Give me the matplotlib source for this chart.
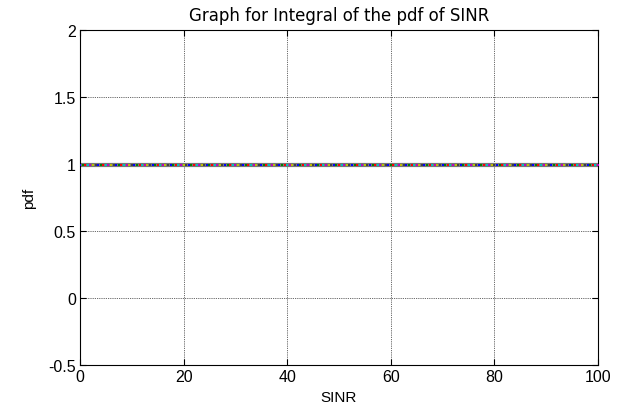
import matplotlib
matplotlib.use('Agg')
import matplotlib.pyplot as plt
import numpy as np

plt.rcParams['font.family'] = ['Liberation Sans', 'DejaVu Sans']

# SINR samples and the integral of the pdf at each (just under 1)
sinr = np.arange(0, 100.5, 0.5)
integral = np.full_like(sinr, 0.99)

x_ticks = [0, 20, 40, 60, 80, 100]
y_ticks = [-0.5, 0, 0.5, 1, 1.5, 2]

# old matlab colour order
colors = [(0, 0, 1), (0, 0.5, 0), (1, 0, 0), (0, 0.75, 0.75),
          (0.75, 0, 0.75), (0.75, 0.75, 0), (0.25, 0.25, 0.25)]

fig = plt.figure(figsize=(6.23, 4.10), dpi=100)
ax = fig.add_axes([0.1284, 0.1073, 0.8315, 0.8171])

ax.plot(sinr, integral, color='#777777', lw=3, zorder=2)
for i in range(len(sinr)):
	ax.plot(sinr[i], integral[i], 's', ms=1.6, mew=0,
		color=colors[i % len(colors)], zorder=3)

ax.set_xlim(0, 100)
ax.set_ylim(-0.5, 2)
ax.set_xticks(x_ticks)
ax.set_yticks(y_ticks)
ax.set_yticklabels(['-0.5', '0', '0.5', '1', '1.5', '2'])
ax.grid(True, color='#333333', linestyle=(0, (1, 1.2)), linewidth=0.6)
ax.tick_params(direction='in', top=True, right=True, labelsize=11.5, length=4, pad=3)
for s in ax.spines.values():
	s.set_linewidth(0.8)

ax.set_title('Graph for Integral of the pdf of SINR', fontsize=12, pad=7,
	family='DejaVu Sans')
ax.set_xlabel('SINR', fontsize=11, labelpad=4)
ax.set_ylabel('pdf', fontsize=11, labelpad=9)

fig.savefig('out.png', dpi=100)
